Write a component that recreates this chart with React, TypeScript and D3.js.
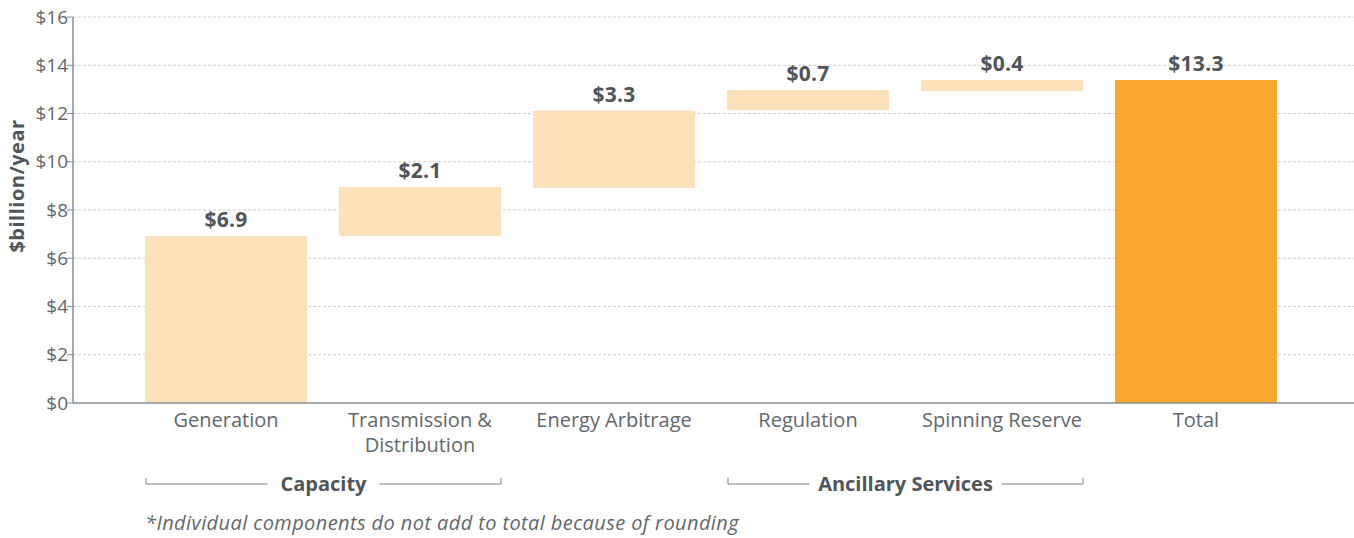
import { useMemo } from 'react';
import * as d3 from 'd3';

const categories = ['Generation', 'Transmission &\nDistribution', 'Energy Arbitrage', 'Regulation', 'Spinning Reserve', 'Total'];
// bar bottoms and tops ($billion/year)
const barLow = [0, 6.92, 8.92, 12.14, 12.93, 0];
const barHigh = [6.92, 8.95, 12.12, 12.97, 13.39, 13.39];
const valueLabels = ['$6.9', '$2.1', '$3.3', '$0.7', '$0.4', '$13.3'];
const yTicks = [0, 2, 4, 6, 8, 10, 12, 14, 16];
const groups = [
  { name: 'Capacity', from: 0, to: 1 },
  { name: 'Ancillary Services', from: 3, to: 4 },
];
const footnote = '*Individual components do not add to total because of rounding';

const width = 1354;
const height = 538;
const margin = { top: 17, left: 73, bottom: 135 };

const FONT = '"Open Sans", Lato, sans-serif';
const light = '#FDE1BB';
const dark = '#F9A72D';
const grey = '#62676c';
const boldGrey = '#50555a';

const App = () => {
  const x = useMemo(
    () => d3.scaleBand().domain(categories).range([113, 1309]).paddingInner(0.165).paddingOuter(0.165),
    []
  );
  const y = useMemo(() => d3.scaleLinear().domain([0, 16]).range([height - margin.bottom, margin.top]), []);
  const bw = x.bandwidth();

  return (
    <svg width={width} height={height} style={{ position: 'absolute', left: 0, top: 0 }} fontFamily={FONT}>
      {/* grid */}
      {yTicks.map((t) => (
        <g key={t}>
          {t > 0 && (
            <line x1={margin.left} x2={width} y1={y(t)} y2={y(t)} stroke="#cfcfcf" strokeDasharray="3,2" strokeWidth={1} />
          )}
          <line x1={margin.left - 6} x2={margin.left} y1={y(t)} y2={y(t)} stroke="#8a8d90" />
          <text x={margin.left - 5} y={y(t)} dy="0.35em" textAnchor="end" fontSize={19} fill={grey}>
            ${t}
          </text>
        </g>
      ))}

      {/* bars */}
      {categories.map((c, i) => (
        <g key={c}>
          <rect
            x={x(c)}
            width={bw}
            y={y(barHigh[i])}
            height={y(barLow[i]) - y(barHigh[i])}
            fill={i === categories.length - 1 ? dark : light}
          />
          <text x={x(c)! + bw / 2} y={y(barHigh[i]) - 9} textAnchor="middle" fontSize={21} fontWeight={700} letterSpacing={0.3} fill={boldGrey}>
            {valueLabels[i]}
          </text>
          {c.split('\n').map((line, j) => (
            <text key={j} x={x(c)! + bw / 2} y={427 + j * 25} textAnchor="middle" fontSize={20} fill={grey}>
              {line}
            </text>
          ))}
        </g>
      ))}

      {/* axes */}
      <line x1={margin.left} x2={margin.left} y1={y(16)} y2={y(0)} stroke="#8a8d90" strokeWidth={1.5} />
      <line x1={margin.left} x2={width} y1={y(0)} y2={y(0)} stroke="#8a8d90" strokeWidth={1.5} />

      <text
        transform={`translate(24, 186) rotate(-90)`}
        textAnchor="middle"
        fontSize={20}
        fontWeight={700}
        letterSpacing={0.5}
        fill={boldGrey}
      >
        $billion/year
      </text>

      {/* group brackets */}
      {groups.map((g) => {
        const x0 = x(categories[g.from])! + 1;
        const x1 = x(categories[g.to])! + bw;
        const cx = (x0 + x1) / 2;
        const half = g.name.length * 4 + 24;
        return (
          <g key={g.name}>
            <path d={`M${x0},478V484H${cx - half}`} fill="none" stroke="#7d8185" />
            <path d={`M${cx + half},484H${x1}V478`} fill="none" stroke="#7d8185" />
            <text x={cx} y={491} textAnchor="middle" fontSize={20} fontWeight={700} fill={boldGrey}>
              {g.name}
            </text>
          </g>
        );
      })}

      <text x={145} y={530} fontSize={20} fontStyle="italic" letterSpacing={0.4} fill={grey}>
        {footnote}
      </text>
    </svg>
  );
};

export default App;
